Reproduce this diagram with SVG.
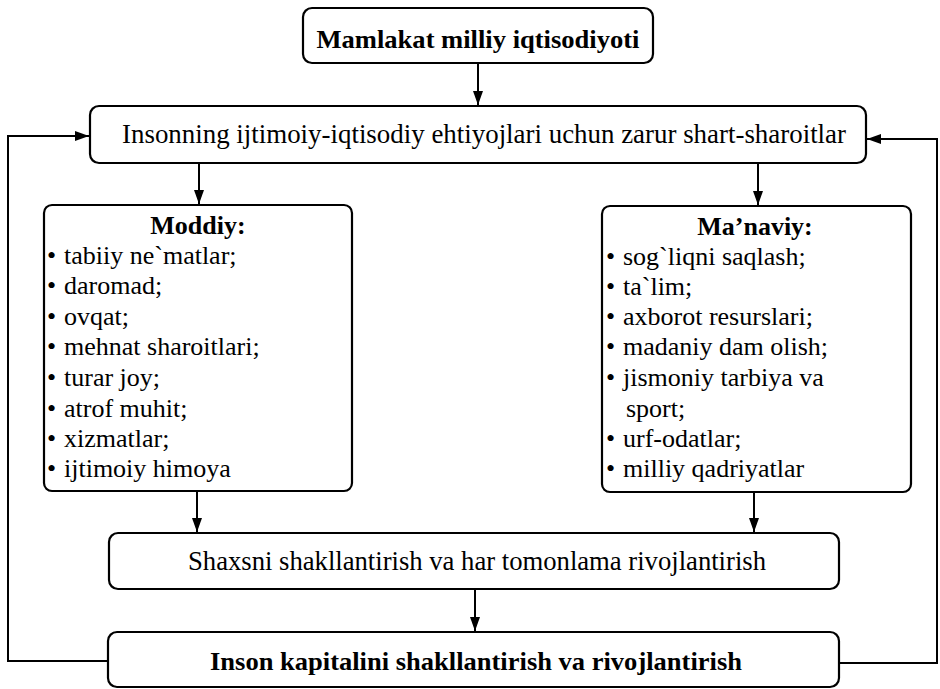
<svg xmlns="http://www.w3.org/2000/svg" width="940" height="689" viewBox="0 0 940 689" font-family="'Liberation Serif', serif">
<defs>
<marker id="ahb" viewBox="0 0 14 10" refX="14" refY="5" markerWidth="14" markerHeight="10" markerUnits="userSpaceOnUse" orient="auto">
<path d="M0,0 L14,5 L0,10 z" fill="#000"/>
</marker>
</defs>
<style>
.box{fill:#fff;stroke:#000;stroke-width:2.2}
.t{font-family:'Liberation Serif',serif;fill:#000}
.b{font-weight:bold}
.c{stroke:#000;stroke-width:2;fill:none}
.it{font-size:26px}
</style>
<rect width="940" height="689" fill="#fff"/>
<g id="connectors">
<line class="c" x1="478" y1="63" x2="478" y2="105" marker-end="url(#ahb)"/>
<line class="c" x1="199" y1="163" x2="199" y2="204" marker-end="url(#ahb)"/>
<line class="c" x1="758" y1="163" x2="758" y2="205" marker-end="url(#ahb)"/>
<line class="c" x1="197" y1="491" x2="197" y2="532" marker-end="url(#ahb)"/>
<line class="c" x1="754" y1="492" x2="754" y2="532" marker-end="url(#ahb)"/>
<line class="c" x1="475" y1="589" x2="475" y2="631" marker-end="url(#ahb)"/>
<polyline class="c" points="108,661 8,661 8,136 89,136" marker-end="url(#ahb)"/>
<polyline class="c" points="839,663 937,663 937,139 867,139" marker-end="url(#ahb)"/>
</g>
<g id="n1">
<rect class="box" x="303" y="8" width="350" height="55" rx="9"/>
<text class="t b" x="478" y="48" font-size="26" text-anchor="middle" textLength="323" lengthAdjust="spacingAndGlyphs">Mamlakat milliy iqtisodiyoti</text>
</g>
<g id="n2">
<rect class="box" x="90" y="106" width="776" height="57" rx="9"/>
<text class="t" x="484" y="143" font-size="27" text-anchor="middle" textLength="724" lengthAdjust="spacingAndGlyphs">Insonning ijtimoiy-iqtisodiy  ehtiyojlari uchun zarur shart-sharoitlar</text>
</g>
<g id="n3">
<rect class="box" x="44" y="205" width="308" height="286" rx="8"/>
<text class="t b it" x="198" y="234" text-anchor="middle">Moddiy:</text>
<g class="t it">
<text x="47" y="264">•</text><text x="64" y="264">tabiiy ne`matlar;</text>
<text x="47" y="294">•</text><text x="64" y="294">daromad;</text>
<text x="47" y="325">•</text><text x="64" y="325">ovqat;</text>
<text x="47" y="355">•</text><text x="64" y="355">mehnat sharoitlari;</text>
<text x="47" y="386">•</text><text x="64" y="386">turar joy;</text>
<text x="47" y="417">•</text><text x="64" y="417">atrof muhit;</text>
<text x="47" y="447">•</text><text x="64" y="447">xizmatlar;</text>
<text x="47" y="477">•</text><text x="64" y="477">ijtimoiy himoya</text>
</g>
</g>
<g id="n4">
<rect class="box" x="602" y="206" width="309" height="286" rx="8"/>
<text class="t b it" x="755" y="235" text-anchor="middle">Ma’naviy:</text>
<g class="t it">
<text x="606" y="265">•</text><text x="623" y="265">sog`liqni saqlash;</text>
<text x="606" y="295">•</text><text x="623" y="295">ta`lim;</text>
<text x="606" y="325">•</text><text x="623" y="325">axborot resurslari;</text>
<text x="606" y="355">•</text><text x="623" y="355">madaniy dam olish;</text>
<text x="606" y="386">•</text><text x="623" y="386">jismoniy tarbiya va</text>
<text x="626" y="417">sport;</text>
<text x="606" y="447">•</text><text x="623" y="447">urf-odatlar;</text>
<text x="606" y="477">•</text><text x="623" y="477">milliy qadriyatlar</text>
</g>
</g>
<g id="n5">
<rect class="box" x="109" y="533" width="730" height="56" rx="9"/>
<text class="t" x="477" y="570" font-size="27" text-anchor="middle" textLength="578" lengthAdjust="spacingAndGlyphs">Shaxsni shakllantirish va har tomonlama rivojlantirish</text>
</g>
<g id="n6">
<rect class="box" x="108" y="632" width="731" height="55" rx="9"/>
<text class="t b" x="476" y="670" font-size="26" text-anchor="middle" textLength="532" lengthAdjust="spacingAndGlyphs">Inson kapitalini shakllantirish va rivojlantirish</text>
</g>
</svg>
